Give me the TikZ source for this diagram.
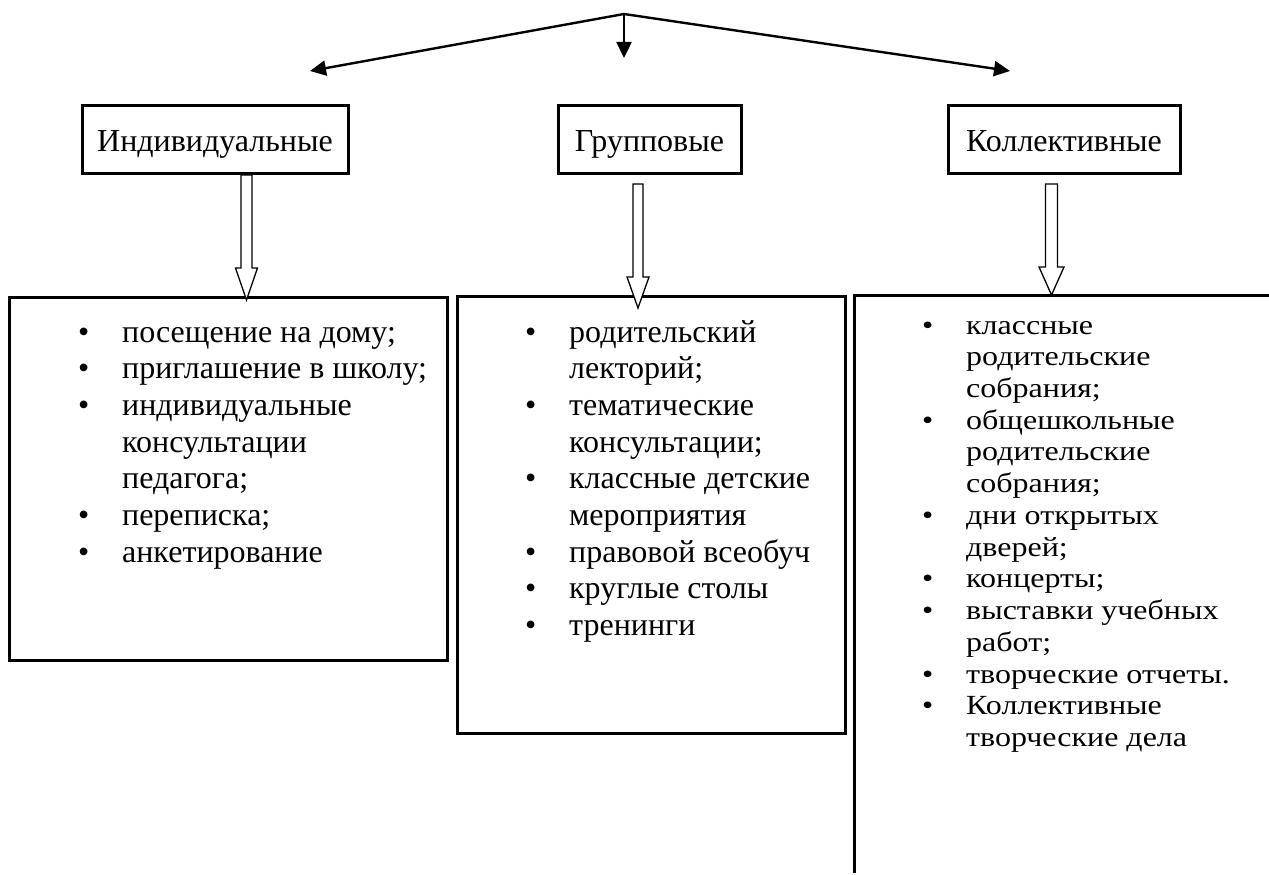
\documentclass[tikz,border=0pt]{standalone}
\usepackage{fontspec}
\setmainfont{Liberation Serif}
\usepackage{graphicx}
\usetikzlibrary{arrows.meta,calc}
\newcommand\lfont{\fontsize{32}{36.7}\selectfont}
\newcommand\blt{\makebox[44pt][l]{\textbullet}}
\newcommand\hollowarrow[5]{%
  \draw[hollowarr] let \p1=(#1), \p2=(#2) in
    (\x1-#3pt,\y1) -- (\x1+#3pt,\y1) -- (\x1+#3pt,\y2+#5pt) -- (\x1+#4pt,\y2+#5pt)
    -- (\x2,\y2) -- (\x1-#4pt,\y2+#5pt) -- (\x1-#3pt,\y2+#5pt) -- cycle;}
\begin{document}
\begin{tikzpicture}[x=1pt,y=-1pt,
  hdr/.style={draw, line width=3pt, inner sep=0pt, text height=24pt, text depth=0pt, font=\lfont},
  listbox/.style={draw, line width=3pt, inner sep=0pt},
  listtext/.style={inner sep=0pt, anchor=base west, font=\lfont},
  toparr/.style={line width=2.4pt, -{Triangle[length=16pt,width=15pt]}},
  hollowarr/.style={line width=1.3pt, fill=white, line join=miter}]
\useasboundingbox (0,0) rectangle (1269,875);

% top arrows
\coordinate (apex) at (624,14);
\coordinate (tipL) at (310,71);
\coordinate (tipC) at (624,58);
\coordinate (tipR) at (1010,71);
\draw[toparr] (apex) -- (tipL);
\draw[toparr] (apex) -- (tipC);
\draw[toparr] (apex) -- (tipR);

% headers
\node[hdr, minimum width=266pt, minimum height=68pt] (h1) at (215,139) {Индивидуальные};
\node[hdr, minimum width=183pt, minimum height=68pt] (h2) at (649.5,139) {Групповые};
\node[hdr, minimum width=232pt, minimum height=68pt] (h3) at (1064,139) {Коллективные};

% list boxes
\node[listbox, minimum width=438pt, minimum height=363pt] (b1) at (228,478.5) {};
\node[listbox, minimum width=388pt, minimum height=437pt] (b2) at (651,514.5) {};
\node[inner sep=0pt, minimum width=414pt, minimum height=577pt] (b3) at (1062,584.5) {};
\draw[line width=3pt] (b3.south west) |- (b3.north east);

% hollow arrows
\coordinate (a1s) at (246.5,175);
\coordinate (a1e) at (246.5,300);
\coordinate (a2s) at (638,184);
\coordinate (a2e) at (638,308);
\coordinate (a3s) at (1051.5,184);
\coordinate (a3e) at (1051.5,295);
\hollowarrow{a1s}{a1e}{5.5}{11}{32}
\hollowarrow{a2s}{a2e}{5}{11}{31}
\hollowarrow{a3s}{a3e}{6}{12.5}{28}

% texts
\node[listtext] (t1) at (78,342) {\begin{tabular}[t]{@{}l@{}}
\blt посещение на дому;\\
\blt приглашение в школу;\\
\blt индивидуальные\\
\hspace{44pt}консультации\\
\hspace{44pt}педагога;\\
\blt переписка;\\
\blt анкетирование
\end{tabular}};

\node[listtext] (t2) at (525,342) {\begin{tabular}[t]{@{}l@{}}
\blt родительский\\
\hspace{44pt}лекторий;\\
\blt тематические\\
\hspace{44pt}консультации;\\
\blt классные детские\\
\hspace{44pt}мероприятия\\
\blt правовой всеобуч\\
\blt круглые столы\\
\blt тренинги
\end{tabular}};

\node[listtext] (t3) at (922,334) {\scalebox{1}[0.865]{\begin{tabular}[t]{@{}l@{}}
\blt классные\\
\hspace{44pt}родительские\\
\hspace{44pt}собрания;\\
\blt общешкольные\\
\hspace{44pt}родительские\\
\hspace{44pt}собрания;\\
\blt дни открытых\\
\hspace{44pt}дверей;\\
\blt концерты;\\
\blt выставки учебных\\
\hspace{44pt}работ;\\
\blt творческие отчеты.\\
\blt Коллективные\\
\hspace{44pt}творческие дела
\end{tabular}}};
\end{tikzpicture}
\end{document}
